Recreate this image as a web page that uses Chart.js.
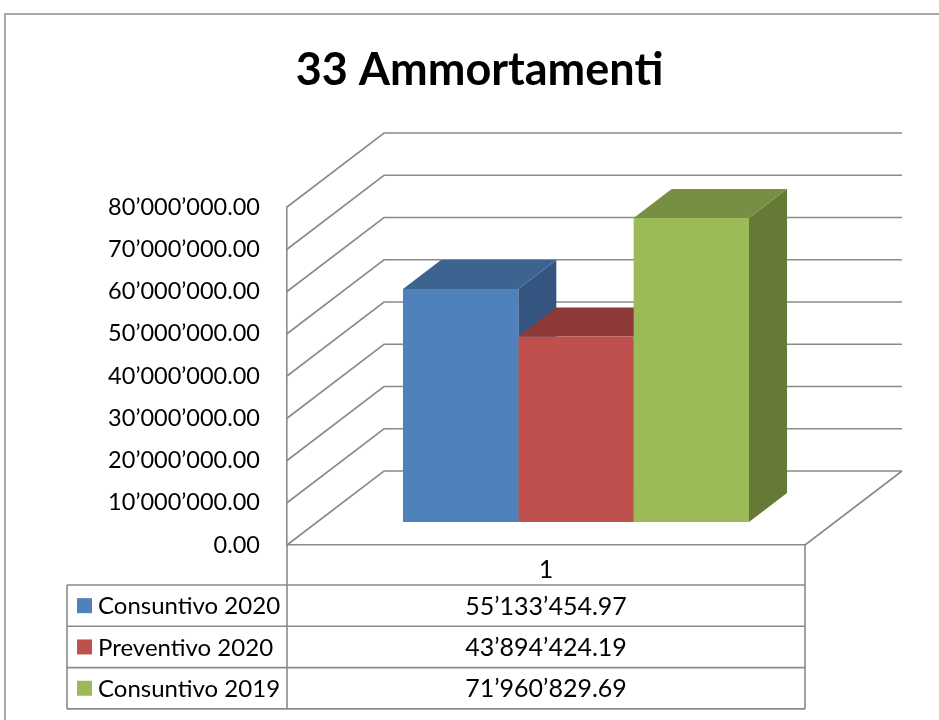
<!DOCTYPE html>
<html>
<head>
<meta charset="utf-8">
<script src="https://cdn.jsdelivr.net/npm/chart.js@4"></script>
<style>
  html, body { margin: 0; padding: 0; background: #fff; }
  canvas { display: block; }
</style>
</head>
<body>
<canvas id="myChart" width="939" height="720"></canvas>
<script>
// data
const categories = ['1'];
const seriesNames = ['Consuntivo 2020', 'Preventivo 2020', 'Consuntivo 2019'];
const seriesValues = [55133454.97, 43894424.19, 71960829.69];
const yMin = 0;
const yMax = 80000000;
const yStep = 10000000;

// styles
const frontColors = ['#4F81BD', '#C0504D', '#9BBB59'];
const topColors = ['#3D6491', '#8E3A38', '#778F42'];
const sideColors = ['#33557F', '#7D3230', '#657A36'];
const lineColor = '#8a8a8a';
const fontFamily = 'Lato, "Open Sans", sans-serif';

// 3d geometry: full wall depth, bar front offset and bar depth
const wallDepth = { x: 97, y: -74 };
const barShift = { x: 30, y: -23 };
const barDepth = { x: 38, y: -29 };

function fmt(v) {
    const parts = v.toFixed(2).split('.');
    return parts[0].replace(/\B(?=(\d{3})+(?!\d))/g, '\u2019') + '.' + parts[1];
}

const threeD = {
    id: 'threeD',
    beforeDraw(chart) {
        const ctx = chart.ctx;
        // outer frame
        ctx.save();
        ctx.strokeStyle = '#8c8c8c';
        ctx.lineWidth = 1.5;
        ctx.strokeRect(5, 14, 1100, 1100);
        ctx.restore();
    },
    beforeDatasetsDraw(chart) {
        const ctx = chart.ctx;
        const area = chart.chartArea;
        const y = chart.scales.y;

        // side wall diagonals + back wall grid
        ctx.save();
        ctx.strokeStyle = lineColor;
        ctx.lineWidth = 1.6;
        y.ticks.forEach(t => {
            const py = y.getPixelForValue(t.value);
            ctx.beginPath();
            ctx.moveTo(area.left, py);
            ctx.lineTo(area.left + wallDepth.x, py + wallDepth.y);
            ctx.lineTo(area.right + wallDepth.x, py + wallDepth.y);
            ctx.stroke();
        });
        // floor right edge
        ctx.beginPath();
        ctx.moveTo(area.right, area.bottom);
        ctx.lineTo(area.right + wallDepth.x, area.bottom + wallDepth.y);
        ctx.stroke();
        ctx.restore();

        // bars are set back into the box
        ctx.save();
        ctx.translate(barShift.x, barShift.y);
        chart.data.datasets.forEach((ds, i) => {
            const meta = chart.getDatasetMeta(i);
            meta.data.forEach(bar => {
                const l = bar.x - bar.width / 2;
                const r = bar.x + bar.width / 2;
                const top = bar.y;
                const bottom = bar.base;
                // side
                ctx.fillStyle = sideColors[i];
                ctx.beginPath();
                ctx.moveTo(r, top);
                ctx.lineTo(r + barDepth.x, top + barDepth.y);
                ctx.lineTo(r + barDepth.x, bottom + barDepth.y);
                ctx.lineTo(r, bottom);
                ctx.closePath();
                ctx.fill();
                // top
                ctx.fillStyle = topColors[i];
                ctx.beginPath();
                ctx.moveTo(l, top);
                ctx.lineTo(r, top);
                ctx.lineTo(r + barDepth.x, top + barDepth.y);
                ctx.lineTo(l + barDepth.x, top + barDepth.y);
                ctx.closePath();
                ctx.fill();
            });
        });
    },
    afterDatasetsDraw(chart) {
        chart.ctx.restore();
    },
    afterDraw(chart) {
        const ctx = chart.ctx;
        const area = chart.chartArea;
        const xs = chart.scales.x;
        const rowH = 41.3;
        const top = xs.bottom;
        const tableLeft = 67;

        ctx.save();
        ctx.strokeStyle = lineColor;
        ctx.lineWidth = 1.6;
        const bottom = top + rowH * seriesNames.length;
        ctx.beginPath();
        ctx.moveTo(area.left, area.bottom); ctx.lineTo(area.left, bottom);
        ctx.moveTo(area.right, area.bottom); ctx.lineTo(area.right, bottom);
        ctx.moveTo(tableLeft, top); ctx.lineTo(tableLeft, bottom);
        for (let i = 0; i <= seriesNames.length; i++) {
            ctx.moveTo(tableLeft, top + i * rowH);
            ctx.lineTo(area.right, top + i * rowH);
        }
        ctx.stroke();

        ctx.textBaseline = 'middle';
        seriesNames.forEach((name, i) => {
            const cy = top + rowH * (i + 0.5);
            ctx.fillStyle = frontColors[i];
            ctx.fillRect(77, cy - 7.5, 15, 15);
            ctx.fillStyle = '#000';
            ctx.textAlign = 'left';
            ctx.font = '24px ' + fontFamily;
            ctx.fillText(name, 98, cy + 1);
            ctx.textAlign = 'center';
            ctx.font = '25px ' + fontFamily;
            ctx.fillText(fmt(seriesValues[i]), xs.getPixelForValue(0), cy + 1);
        });
        ctx.restore();
    }
};

const data = {
    labels: categories,
    datasets: seriesNames.map((name, i) => ({
        label: name,
        data: [seriesValues[i]],
        backgroundColor: frontColors[i],
        borderWidth: 0,
        barPercentage: 1,
        categoryPercentage: 0.668,
        clip: false,
        yAxisID: 'y'
    }))
};

const config = {
    type: 'bar',
    data,
    options: {
        responsive: false,
        animation: false,
        layout: {
            padding: { left: 80, right: 60, top: 0, bottom: 135 }
        },
        scales: {
            x: {
                grid: { display: false, drawTicks: false },
                border: { display: true, color: lineColor, width: 1.6 },
                ticks: {
                    color: '#000',
                    padding: 10,
                    font: { family: fontFamily, size: 25 }
                },
                afterFit: s => { s.height = 40; }
            },
            y: {
                min: yMin,
                max: yMax,
                grid: { display: false, drawTicks: false },
                border: { display: true, color: lineColor, width: 1.6 },
                ticks: {
                    stepSize: yStep,
                    color: '#000',
                    padding: 27,
                    font: { family: fontFamily, size: 23.5 },
                    callback: v => fmt(v)
                },
                afterFit: s => { s.width = 207; }
            },
            // empty spacer on the right, room for the back wall
            spacer: {
                type: 'linear',
                position: 'right',
                grid: { display: false, drawTicks: false },
                border: { display: false },
                ticks: { display: false },
                afterFit: s => { s.width = 74; }
            }
        },
        plugins: {
            legend: { display: false },
            tooltip: { enabled: false },
            title: {
                display: true,
                text: '33 Ammortamenti',
                color: '#000',
                font: { family: fontFamily, size: 45, weight: 'bold', lineHeight: 1.2 },
                padding: { top: 43.5, bottom: 109.5 }
            }
        }
    },
    plugins: [threeD]
};

const myChart = new Chart(document.getElementById('myChart'), config);
</script>
</body>
</html>
